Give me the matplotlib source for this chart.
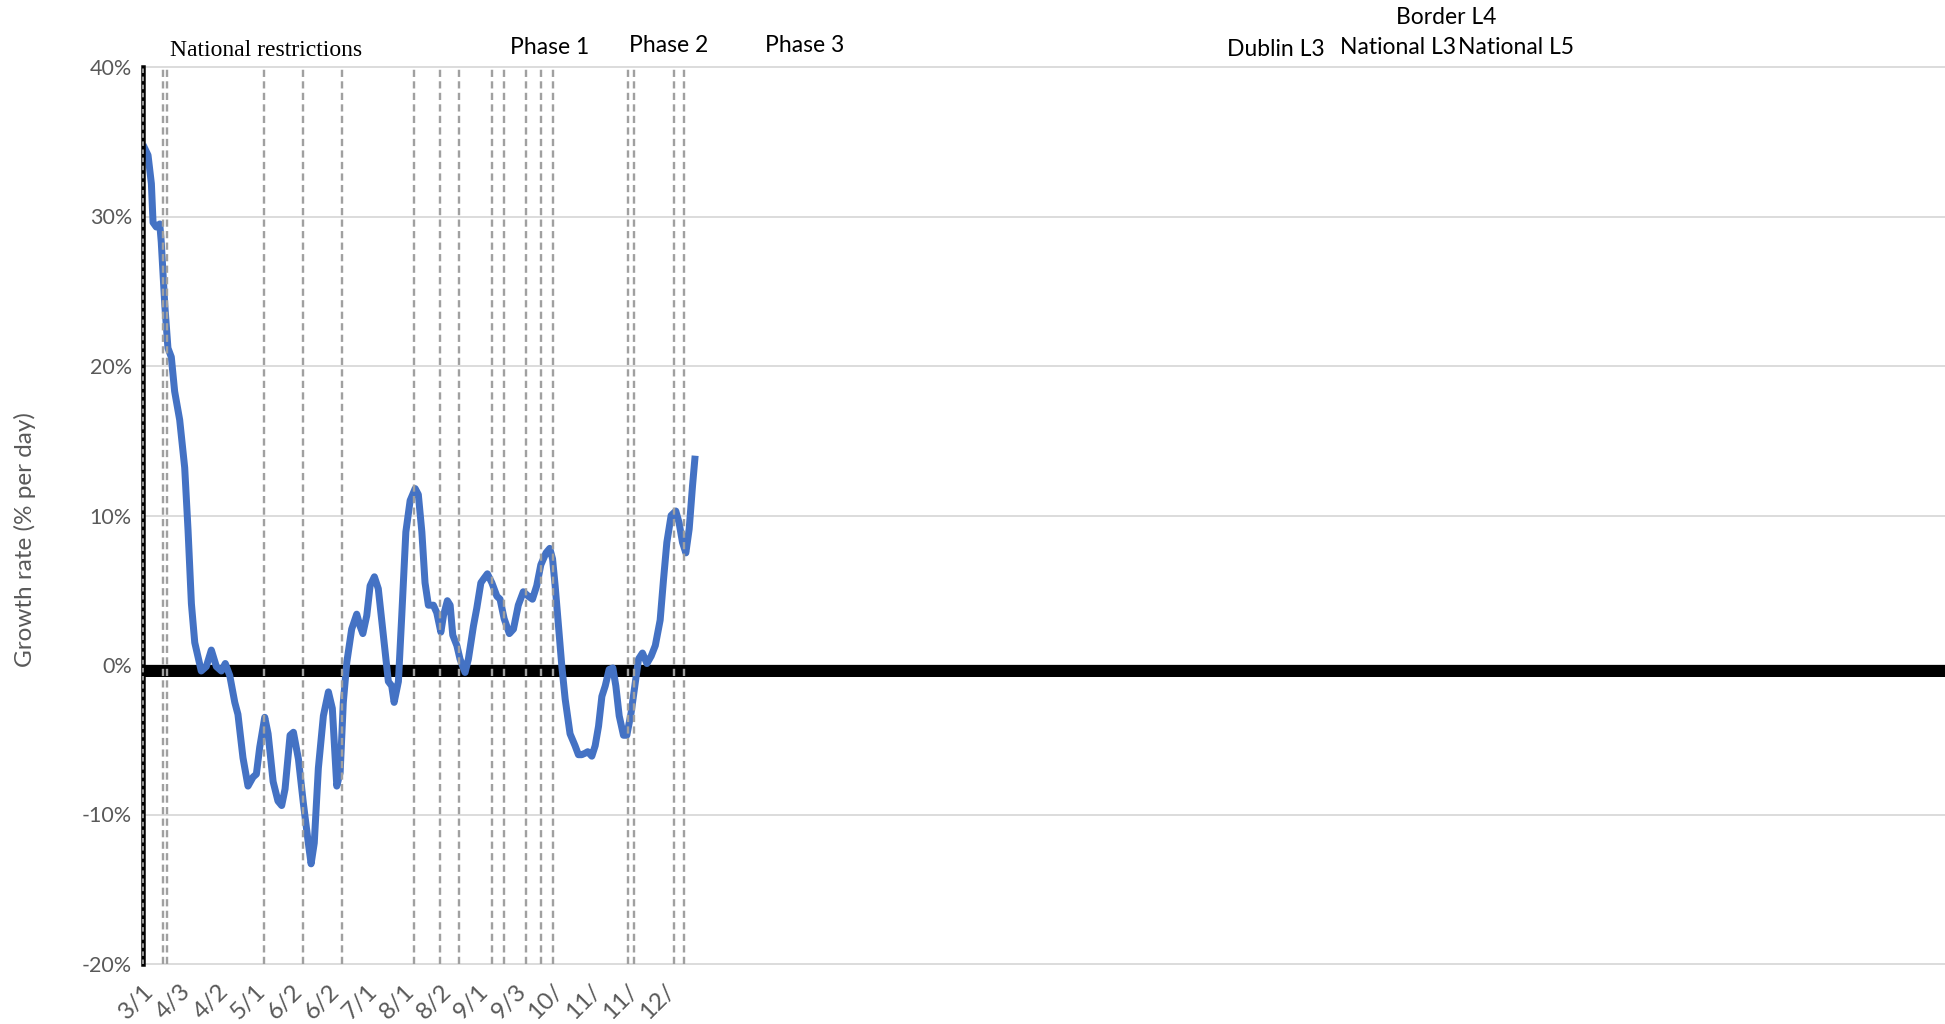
import matplotlib
matplotlib.use("Agg")
import matplotlib.pyplot as plt

# ---------------- data ----------------
# days since first category (14 Mar 2020)
days = [0, 2.7, 4.5, 5.4, 7.1, 9.0, 9.8, 11.7, 13.4, 15.2, 17.0, 19.7, 22.4, 24.2,
        26.0, 27.8, 31.3, 34.0, 36.7, 39.4, 42.1, 44.2, 46.6, 49.3, 51.0, 53.7,
        56.4, 59.1, 60.9, 62.7, 65.4, 67.2, 69.9, 72.5, 74.5, 76.3, 79.0, 80.8,
        83.5, 86.1, 88.8, 90.3, 92.0, 94.2, 96.9, 99.6, 101.7, 104.1, 105.9,
        107.6, 109.5, 112.1, 114.8, 116.6, 118.1, 120.2, 122.0, 124.3, 126.4,
        129.1, 131.8, 133.6, 134.9, 137.2, 139.0, 141.2, 143.5, 146.2, 147.9,
        149.8, 151.5, 153.3, 156.0, 157.8, 160.0, 161.4, 163.5, 165.0, 166.4,
        168.6, 170.3, 173.0, 174.8, 177.5, 179.3, 181.5, 183.2, 185.0, 187.4,
        190.1, 191.8, 194.0, 196.8, 199.0, 201.6, 204.3, 207.0, 209.2, 211.5,
        213.7, 216.5, 218.5, 220.0, 221.4, 223.2, 225.0, 226.8, 229.4, 232.1,
        233.9, 235.7, 237.5, 238.9, 241.1, 242.9, 244.7, 246.5, 248.3, 250.4,
        252.4, 254.0, 255.8, 258.1, 259.9, 262.2, 264.4, 266.2, 268.3, 270.7,
        273.0, 275.2, 277.8, 279.6, 281.4, 283.7, 286.2, 288.0, 289.8, 291.6,
        293.4, 295.2, 296.6]
growth = [34.8, 34.1, 32.2, 29.6, 29.3, 29.5, 28.3, 24.1, 21.2, 20.6, 18.3, 16.4, 13.2, 9.0,
          4.1, 1.5, -0.4, -0.1, 1.0, -0.1, -0.4, 0.1, -0.7, -2.5, -3.3, -6.2,
          -8.1, -7.5, -7.3, -5.5, -3.5, -4.6, -7.8, -9.1, -9.4, -8.3, -4.7, -4.5,
          -6.3, -9.2, -11.9, -13.3, -11.9, -6.9, -3.4, -1.8, -2.9, -8.1, -7.2,
          -2.5, 0.2, 2.4, 3.4, 2.6, 2.1, 3.3, 5.3, 5.9, 5.1,
          2.0, -1.1, -1.4, -2.5, -1.1, 3.3, 8.9, 11.0, 11.8, 11.4,
          8.9, 5.5, 4.0, 4.0, 3.5, 2.2, 3.3, 4.3, 4.0, 2.0,
          1.3, 0.4, -0.5, 0.4, 2.6, 3.8, 5.5, 5.8, 6.1, 5.5,
          4.6, 4.4, 3.1, 2.1, 2.4, 4.0, 4.9, 4.6, 4.4, 5.3,
          6.7, 7.5, 7.8, 7.1, 5.3, 2.6, -0.1, -2.3, -4.6, -5.4,
          -6.0, -6.0, -5.9, -5.8, -6.1, -5.4, -4.1, -2.1, -1.4, -0.3,
          -0.2, -1.4, -3.4, -4.7, -4.7, -3.2, -1.2, 0.4, 0.8, 0.1,
          0.6, 1.3, 3.0, 5.7, 8.2, 10.0, 10.3, 9.5, 8.2, 7.5,
          9.1, 12.0, 14.0]

event_days = [10.5, 13, 65, 86, 107, 145.5, 159.5, 170, 187.5, 194, 205.5, 214,
              220, 260.5, 264, 285.5, 290.5]

tick_days = [0, 20, 40, 60, 80, 100, 120, 140, 160, 180, 200, 220, 240, 260, 280]
tick_labels = ["3/1", "4/3", "4/2", "5/1", "6/2", "6/2", "7/1", "8/1", "8/2",
               "9/1", "9/3", "10/", "11/", "11/", "12/"]

y_ticks = [-20, -10, 0, 10, 20, 30, 40]
y_tick_labels = ["-20%", "-10%", "0%", "10%", "20%", "30%", "40%"]

phase_texts = ["Phase 1", "Phase 2", "Phase 3", "Dublin L3", "Border L4",
               "National L3", "National L5"]

# ---------------- layout ----------------
W, H = 1945, 1024
DPI = 100
PX = 72.0 / DPI  # points per pixel

fig = plt.figure(figsize=(W / DPI, H / DPI), dpi=DPI)
ax = fig.add_axes([143 / W, (H - 964) / H, (W - 143) / W, (964 - 67) / H])
ax.set_xlim(0, 968)
ax.set_ylim(-20, 40)

for s in ax.spines.values():
    s.set_visible(False)

# gridlines
for v in y_ticks:
    ax.axhline(v, color="#D9D9D9", lw=1.8 * PX, zorder=1, clip_on=False)

# thick zero band
ax.axhline(-0.4, color="black", lw=12 * PX, zorder=2)

# data line
ax.plot(days, growth, color="#4472C4", lw=7 * PX, zorder=3,
        solid_joinstyle="round", solid_capstyle="butt")

# event dashed lines
for d in event_days:
    ax.axvline(d, color="#A0A0A0", lw=2.4 * PX, dashes=(3.0, 1.8), zorder=4)

# left axis: black line with gray dashes
ax.axvline(0, color="black", lw=4.5 * PX, zorder=5, clip_on=False)
ax.axvline(0, color="#A6A6A6", lw=1.8 * PX, dashes=(2.5, 2.0), zorder=6,
           clip_on=False)

tick_font = "Lato"
ax.set_yticks(y_ticks)
ax.set_yticklabels(y_tick_labels, fontsize=15.5, color="#595959",
                   family=tick_font)
ax.set_xticks(tick_days)
ax.set_xticklabels(tick_labels, fontsize=17.5, color="#595959",
                   family=tick_font, rotation=45, ha="right",
                   rotation_mode="anchor")
ax.tick_params(axis="both", length=0)
ax.tick_params(axis="y", pad=8)
ax.tick_params(axis="x", pad=12)

fig.text(25 / W, 1 - 540 / H, "Growth rate (% per day)", rotation=90,
         ha="center", va="center", fontsize=17.5, color="#595959",
         family=tick_font)

# annotations at top
fig.text(266.5 / W, 1 - 51 / H, "National restrictions", ha="center",
         va="center", fontsize=17, color="black", family="Liberation Serif")

phase_pos = [(550, 48), (669, 46), (805, 46), (1276, 49), (1446, 17),
             (1398, 47), (1516, 47)]
for txt, (px, py) in zip(phase_texts, phase_pos):
    fig.text(px / W, 1 - py / H, txt, ha="center", va="center",
             fontsize=16.5, color="black", family="Lato")

fig.savefig("out.png", dpi=DPI)
